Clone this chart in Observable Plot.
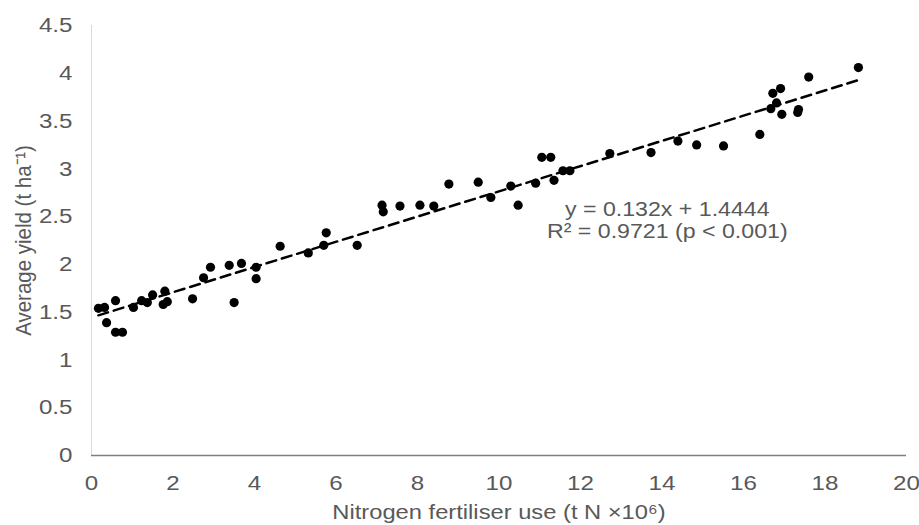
<!DOCTYPE html>
<html>
<head>
<meta charset="utf-8">
<script src="https://cdn.jsdelivr.net/npm/d3@7"></script>
<script src="https://cdn.jsdelivr.net/npm/@observablehq/plot@0.6"></script>
<style>
  html, body { margin: 0; padding: 0; background: #fff; }
</style>
</head>
<body>
<div id="chart"></div>
<script>
// Nitrogen fertiliser use (t N ×10^6)
const nitrogen = [0.17, 0.32, 0.37, 0.59, 0.59, 0.76, 1.03, 1.23, 1.37, 1.50,
  1.80, 1.76, 1.86, 2.48, 2.75, 2.92, 3.38, 3.50, 3.68, 4.04,
  4.04, 4.63, 5.32, 5.70, 5.76, 6.52, 7.13, 7.16, 7.57, 8.06,
  8.40, 8.77, 9.49, 9.80, 10.29, 10.47, 10.90, 11.05, 11.27, 11.35,
  11.57, 11.74, 12.72, 13.73, 14.39, 14.85, 15.51, 16.40, 16.67, 16.72,
  16.81, 16.91, 16.94, 17.33, 17.35, 17.60, 18.82];
// Average yield (t ha-1)
const yieldVals = [1.54, 1.55, 1.39, 1.62, 1.29, 1.29, 1.55, 1.62, 1.60, 1.68,
  1.72, 1.58, 1.61, 1.64, 1.86, 1.97, 1.99, 1.60, 2.01, 1.97,
  1.85, 2.19, 2.12, 2.20, 2.33, 2.20, 2.62, 2.55, 2.61, 2.62,
  2.61, 2.84, 2.86, 2.70, 2.82, 2.62, 2.85, 3.12, 3.12, 2.88,
  2.98, 2.98, 3.16, 3.17, 3.29, 3.25, 3.24, 3.36, 3.63, 3.79,
  3.69, 3.84, 3.57, 3.59, 3.62, 3.96, 4.06];

// Fitted trend line (from the chart's equation)
const slope = 0.132;
const intercept = 1.4444;
const trendX = [0.17, 18.82];

// Equation annotation: text and its anchor in data units
const annotationText = ["y = 0.132x + 1.4444", "R² = 0.9721 (p < 0.001)"];
const annotationX = [14.13, 14.13];
const annotationY = [2.575, 2.345];

const xTicks = [0, 2, 4, 6, 8, 10, 12, 14, 16, 18, 20];
const yTicks = [0, 0.5, 1, 1.5, 2, 2.5, 3, 3.5, 4, 4.5];

const xLabel = "Nitrogen fertiliser use (t N ×10⁶)";
const yLabel = "Average yield (t ha⁻¹)";

const points = nitrogen.map((x, i) => ({x, y: yieldVals[i]}));
const trend = trendX.map(x => ({x, y: slope * x + intercept}));
const notes = annotationText.map((t, i) => ({t, x: annotationX[i], y: annotationY[i]}));

const font = "'Liberation Sans', Arial, sans-serif";
const textColor = "#595959";

const chart = Plot.plot({
  width: 919,
  height: 525,
  marginLeft: 91,
  marginRight: 13,
  marginTop: 25,
  marginBottom: 70,
  style: {fontFamily: font, fontSize: "21px", color: textColor, background: "#fff"},
  x: {domain: [0, 20]},
  y: {domain: [0, 4.5]},
  marks: [
    Plot.axisX({ticks: xTicks, tickSize: 0, tickPadding: 20, label: null, fontSize: 21, fill: textColor}),
    Plot.axisY({ticks: yTicks, tickSize: 0, tickPadding: 19, label: null, fontSize: 21, fill: textColor, tickFormat: d => String(d)}),
    Plot.ruleX([0], {stroke: "#d9d9d9", strokeWidth: 1}),
    Plot.ruleY([0], {stroke: "#7f7f7f", strokeWidth: 1.5}),
    Plot.line(trend, {x: "x", y: "y", stroke: "#000", strokeWidth: 2.5, strokeDasharray: "10,6"}),
    Plot.dot(points, {x: "x", y: "y", r: 4.6, fill: "#000", stroke: "none"}),
    Plot.text(notes, {x: "x", y: "y", text: "t", fontSize: 20.5, fill: textColor, textAnchor: "middle", lineAnchor: "middle", fontFamily: font}),
    Plot.text([xLabel], {frameAnchor: "bottom", dy: 57, text: d => d, fontSize: 21, fill: textColor, textAnchor: "middle", lineAnchor: "middle", fontFamily: font}),
    Plot.text([yLabel], {frameAnchor: "left", dx: -68, rotate: -90, text: d => d, fontSize: 20.5, fill: textColor, textAnchor: "middle", lineAnchor: "middle", fontFamily: font})
  ]
});

// The reference's lettering is slightly wide; widen glyphs about their anchor points.
function widen(t, s) {
  const tr = t.getAttribute("transform") || "";
  t.setAttribute("transform", `${tr} ${s}`);
}
chart.querySelectorAll("text").forEach(t => {
  const c = t.textContent;
  if (c.startsWith("Average")) widen(t, "scale(1,1.12)");
  else if (c.startsWith("Nitrogen") || c.includes("0.132") || c.includes("0.9721")) widen(t, "scale(1.13,1)");
  else if (/^[0-9.]+$/.test(c)) widen(t, "scale(1.15,1)");
});

document.getElementById("chart").appendChild(chart);
</script>
</body>
</html>
